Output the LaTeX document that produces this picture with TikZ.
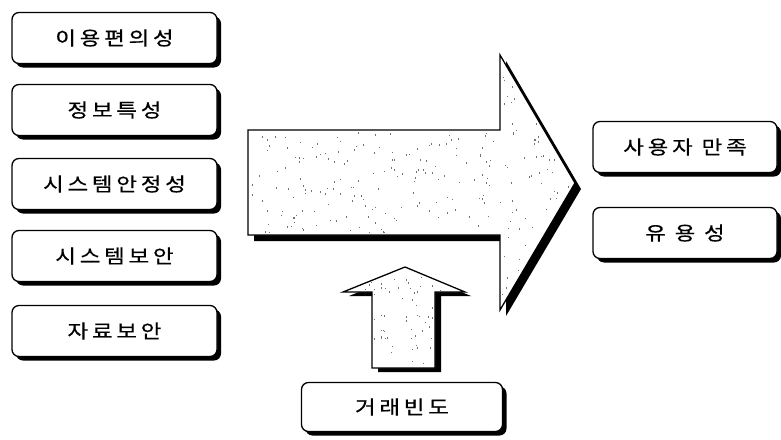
\documentclass[tikz,border=0pt]{standalone}
\usepackage{fontspec}
\usetikzlibrary{shadows}
\newfontfamily\kr{Noto Sans CJK KR}[LetterSpace=20, FakeStretch=1.18, FakeBold=0.6]
\tikzset{
  box/.style={draw=black, line width=1.3pt, rounded corners=7pt, fill=white,
    minimum width=205pt, minimum height=51pt, inner sep=0pt,
    font=\kr\fontsize{19}{19}\selectfont,
    drop shadow={shadow xshift=4pt, shadow yshift=-4pt, fill=black, opacity=1}},
  arrowshape/.style={draw=black, line width=1.3pt, fill=white, line join=miter},
  arrowshadow/.style={fill=black},
  speck/.style={fill=black!55}
}
\begin{document}
\begin{tikzpicture}[x=1pt,y=-1pt]
\useasboundingbox (0,0) rectangle (781,439);
% big arrow
\fill[arrowshadow] (254,136) -- (506,136) -- (506,61) -- (581,189) -- (506,316) -- (506,241) -- (254,241) -- cycle;
\path[arrowshape] (248,130) -- (500,130) -- (500,55) -- (575,183) -- (500,310) -- (500,235) -- (248,235) -- cycle;
\begin{scope}
\clip (250,132) -- (500,132) -- (500,58) -- (572,183) -- (500,307) -- (500,233) -- (250,233) -- cycle;
\pgfmathsetseed{7}
\foreach \i in {1,...,520}{
  \pgfmathsetmacro{\px}{250+rnd*322}
  \pgfmathsetmacro{\py}{60+rnd*250}
  \fill[speck] (\px,\py) rectangle ++(1,1.6);
}
\end{scope}
% up arrow
\fill[arrowshadow] (411,271) -- (471,296) -- (441,296) -- (441,372) -- (378,372) -- (378,296) -- (349,296) -- cycle;
\path[arrowshape] (405,267) -- (465,292) -- (435,292) -- (435,368) -- (372,368) -- (372,292) -- (343,292) -- cycle;
\begin{scope}
\clip (405,269) -- (460,291) -- (433,291) -- (433,366) -- (374,366) -- (374,291) -- (348,291) -- cycle;
\pgfmathsetseed{11}
\foreach \i in {1,...,110}{
  \pgfmathsetmacro{\px}{345+rnd*118}
  \pgfmathsetmacro{\py}{268+rnd*100}
  \fill[speck] (\px,\py) rectangle ++(1,1.6);
}
\end{scope}
% left boxes
\node[box] (b1) at (114.5,38) {이용편의성};
\node[box] (b2) at (114.5,110) {정보특성};
\node[box] (b3) at (114.5,184) {시스템안정성};
\node[box] (b4) at (114.5,256) {시스템보안};
\node[box] (b5) at (114.5,331) {자료보안};
% right boxes
\node[box, minimum width=184pt] (r1) at (685,147) {사용자 만족};
\node[box, minimum width=184pt] (r2) at (685,233) {유 용 성};
% bottom box
\node[box, minimum width=201pt, minimum height=49pt] (bt) at (402,407) {거래빈도};
\end{tikzpicture}
\end{document}
